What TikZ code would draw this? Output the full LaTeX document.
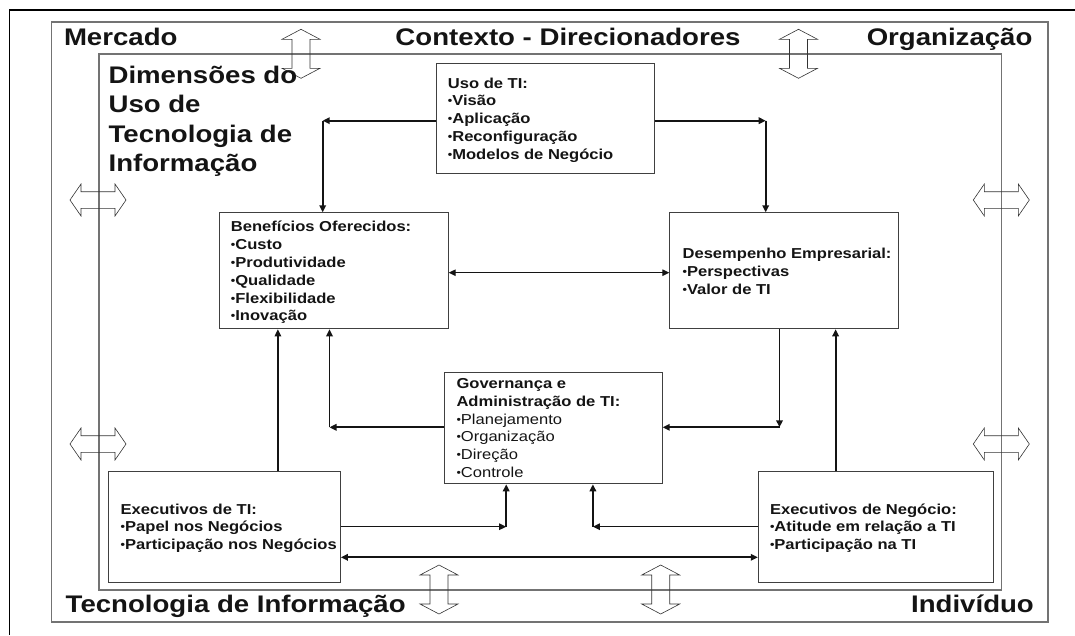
\documentclass[tikz,border=0pt]{standalone}
\usepackage{fontspec}
\setmainfont{Liberation Sans}[FakeStretch=1.15]
\usetikzlibrary{arrows.meta,calc}
\newcommand{\bl}{\raisebox{1.0pt}{\fontsize{11}{11}\selectfont •}}
\begin{document}
\begin{tikzpicture}[x=1pt,y=-1pt,
  frame/.style={draw=black!55, line width=1.4pt},
  box/.style={draw=black!75, line width=1pt, inner sep=0pt, anchor=north west},
  boxtext/.style={anchor=north west, inner sep=0pt, align=left, text=black!92,
     font=\fontsize{14.4}{17.8}\selectfont},
  title/.style={inner sep=0pt, text=black!92, font=\fontsize{24}{29.4}\selectfont\bfseries},
  conn/.style={line width=1.2pt, draw=black!92},
  thk/.style={line width=1.9pt},
  tip/.style={-{Triangle[length=7pt,width=6.5pt]}},
  both/.style={{Triangle[length=7pt,width=6.5pt]}-{Triangle[length=7pt,width=6.5pt]}},
  blk/.style={draw=black!80, line width=0.6pt},
  vblock/.pic={\draw[blk] (0,-24.5) -- (19,-14.5) -- (9,-14.5) -- (9,14.5) -- (19,14.5) -- (0,24.5)
      -- (-19,14.5) -- (-9,14.5) -- (-9,-14.5) -- (-19,-14.5) -- cycle;},
  hblock/.pic={\draw[blk] (-28,0) -- (-17,-16) -- (-17,-8.3) -- (17,-8.3) -- (17,-16) -- (28,0)
      -- (17,16) -- (17,8.3) -- (-17,8.3) -- (-17,16) -- cycle;}
]
\useasboundingbox (0,0) rectangle (1075,635);
% page frame (top and left)
\draw[line width=1.2pt] (1075,10) -- (9.3,10) -- (9.3,635);
% context rectangles
\draw[frame] (51.7,22) rectangle (1048,622);
\draw[frame] (98.8,54) rectangle (1001.6,590);

% boxes
\node[box, minimum width=218.2pt, minimum height=110.6pt] (uso) at (435.6,62.7) {};
\node[box, minimum width=229pt, minimum height=116pt] (ben) at (218.7,212.3) {};
\node[box, minimum width=229pt, minimum height=116pt] (des) at (669.3,212.3) {};
\node[box, minimum width=218.2pt, minimum height=111pt] (gov) at (443.5,372.3) {};
\node[box, minimum width=232.1pt, minimum height=111pt] (eti) at (107.8,470.7) {};
\node[box, minimum width=235.2pt, minimum height=111pt] (eng) at (757.8,470.7) {};

% box texts
\node[boxtext, font=\fontsize{14.4}{17.8}\selectfont\bfseries] (usot) at (447.7,75.5)
  {\strut Uso de TI:\\\strut\bl Visão\\\strut\bl Aplicação\\\strut\bl Reconfiguração\\\strut\bl Modelos de Negócio};
\node[boxtext, font=\fontsize{14.4}{17.8}\selectfont\bfseries] (bent) at (230.7,219.2)
  {\strut Benefícios Oferecidos:\\\strut\bl Custo\\\strut\bl Produtividade\\\strut\bl Qualidade\\\strut\bl Flexibilidade\\\strut\bl Inovação};
\node[boxtext, font=\fontsize{14.4}{17.8}\selectfont\bfseries] (dest) at (682.4,245.8)
  {\strut Desempenho Empresarial:\\\strut\bl Perspectivas\\\strut\bl Valor de TI};
\node[boxtext] (govt) at (456.3,375.8)
  {\strut\textbf{Governança e}\\\strut\textbf{Administração de TI:}\\\strut\bl Planejamento\\\strut\bl Organização\\\strut\bl Direção\\\strut\bl Controle};
\node[boxtext, font=\fontsize{14.4}{17.8}\selectfont\bfseries] (etit) at (120.5,501.5)
  {\strut Executivos de TI:\\\strut\bl Papel nos Negócios\\\strut\bl Participação nos Negócios};
\node[boxtext, font=\fontsize{14.4}{17.8}\selectfont\bfseries] (engt) at (769.8,501.5)
  {\strut Executivos de Negócio:\\\strut\bl Atitude em relação a TI\\\strut\bl Participação na TI};

% connector helper coordinates
\coordinate (c1) at (322.7,120.7);
\coordinate (c2) at (765.7,120.7);
\coordinate (y3) at (0,272.7);
\coordinate (x4) at (277.9,0);
\coordinate (c5) at (329.5,427.3);
\coordinate (c6) at (779.5,427.3);
\coordinate (x7) at (835.6,0);
\coordinate (c8) at (506.2,526.7);
\coordinate (c9) at (592.9,526.7);
\coordinate (y10) at (0,557.3);

% connectors
\draw[conn,thk,tip] (c1 -| uso.west) -- (c1);
\draw[conn,thk,tip] (c1) -- (c1 |- ben.north);
\draw[conn,thk,tip] (c2 -| uso.east) -- (c2);
\draw[conn,thk,tip] (c2) -- (c2 |- des.north);
\draw[conn,both] (ben.east |- y3) -- (des.west |- y3);
\draw[conn,tip] (x4 |- eti.north) -- (x4 |- ben.south);
\draw[conn,thk,tip] (c5 -| gov.west) -- (c5);
\draw[conn,thk,tip] (c5) -- (c5 |- ben.south);
\draw[conn,thk,tip] (c6 |- des.south) -- (c6);
\draw[conn,thk,tip] (c6) -- (c6 -| gov.east);
\draw[conn,thk,tip] (x7 |- eng.north) -- (x7 |- des.south);
\draw[conn,tip] (c8 -| eti.east) -- (c8);
\draw[conn,thk,tip] (c8) -- (c8 |- gov.south);
\draw[conn,tip] (c9 -| eng.west) -- (c9);
\draw[conn,thk,tip] (c9) -- (c9 |- gov.south);
\draw[conn,thk,both] (eti.east |- y10) -- (eng.west |- y10);

% hollow double arrows
\pic at (301,53.8) {vblock};
\pic at (798.5,53.8) {vblock};
\pic at (439,589.5) {vblock};
\pic at (660.7,589.5) {vblock};
\pic at (98,200) {hblock};
\pic at (98,444) {hblock};
\pic at (1001.3,200) {hblock};
\pic at (1001.3,444) {hblock};

% titles
\node[title, anchor=base west] (mercado) at (63.8,45) {Mercado};
\node[title, anchor=base] (contexto) at (568,45) {Contexto - Direcionadores};
\node[title, anchor=base east] (organizacao) at (1032.6,45) {Organização};
\node[title, anchor=base west] (tecinfo) at (65.5,612) {Tecnologia de Informação};
\node[title, anchor=base east] (individuo) at (1034,612) {Indivíduo};
\node[title, anchor=north west, align=left] (dimensoes) at (108.4,62.7)
  {\strut Dimensões do\\\strut Uso de\\\strut Tecnologia de\\\strut Informação};
\end{tikzpicture}
\end{document}
